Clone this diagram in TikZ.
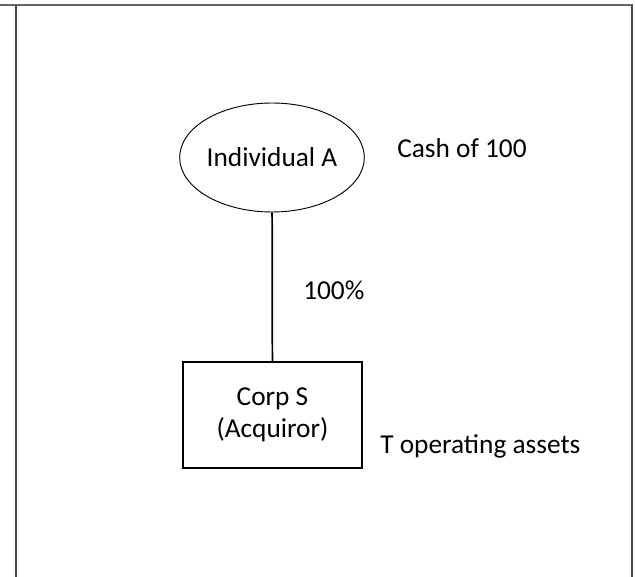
\documentclass[tikz,border=0pt]{standalone}
\usepackage{fontspec}
\setmainfont{Carlito}
\usetikzlibrary{shapes,positioning}

\begin{document}
\begin{tikzpicture}[x=0.75pt,y=-0.75pt,
  every node/.style={font=\fontsize{20.5}{24}\selectfont},
  owner/.style={draw,ellipse,line width=0.7pt,minimum width=133.5pt,minimum height=81.75pt,inner sep=0pt},
  corp/.style={draw,rectangle,line width=0.9pt,minimum width=134.25pt,minimum height=79.5pt,align=center,inner sep=0pt},
  note/.style={inner sep=0pt,anchor=base west},
  frame/.style={line width=1.5pt,black!72}]

  \useasboundingbox (0,0) rectangle (635,577);

  %table frame
  \draw[frame,black!60] (0,5) -- (633,5);
  \foreach \fx in {15.5,632.3}{
    \draw[frame] (\fx,5) -- (\fx,577);
  }

  %structure
  \node[owner] (indA) at (272,157.5) {Individual A};
  \node[corp] (corpS) at (272.5,415) {Corp S\\(Acquiror)};
  \draw[line width=1.3pt] (indA) -- (corpS);

  %labels
  \node[note] (cash) at (397,158) {Cash of 100};
  \node[note] (pct) at (303,299) {100\%};
  \node[note] (assets) at (380,453) {T operating assets};

\end{tikzpicture}
\end{document}
